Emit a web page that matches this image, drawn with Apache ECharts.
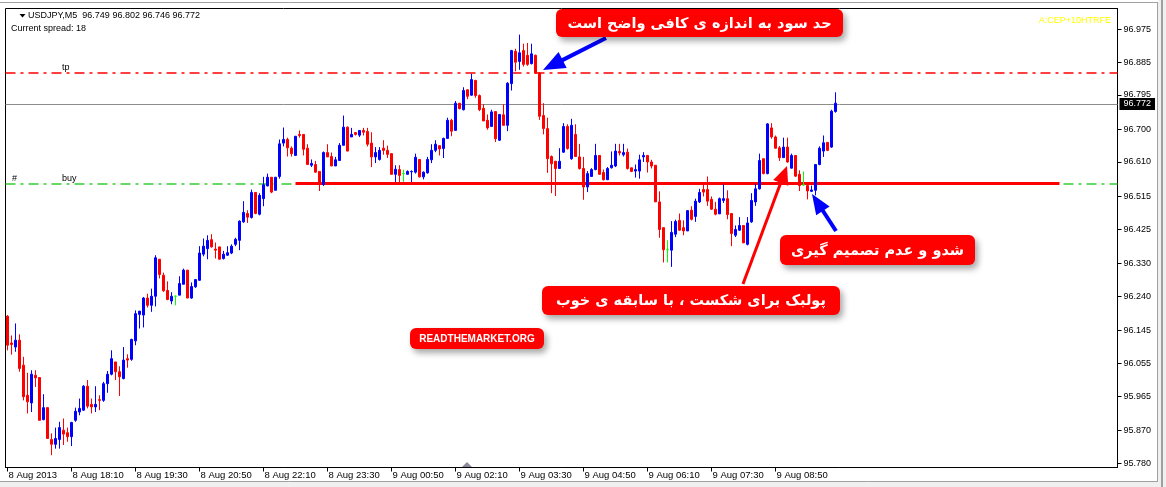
<!DOCTYPE html>
<html><head><meta charset="utf-8">
<script src="https://cdn.jsdelivr.net/npm/echarts@6/dist/echarts.min.js"></script>
<style>html,body{margin:0;padding:0;background:#fff}#c{width:1166px;height:487px}</style>
</head><body><div id="c"></div>
<script>
// ---------- data ----------
const symbolTitle = 'USDJPY,M5  96.749 96.802 96.746 96.772';
const spreadText = 'Current spread: 18';
const cornerText = 'A:CEP+10HTRFE';
const firstLabel = '8 Aug 2013';
const startTimeUTC = [2013, 7, 8, 16, 50];   // first bar: 8 Aug 2013 16:50
const barMinutes = 5;
const slotCount = 278;                        // bars + empty right shift
const labelEvery = 16;
const priceTicks = [95.780, 95.870, 95.965, 96.055, 96.145, 96.240, 96.330, 96.425, 96.515, 96.610, 96.700, 96.795, 96.885, 96.975];
const priceMin = 95.768, priceMax = 97.033;
const tpPrice = 96.855;
const buyPrice = 96.549;
const lastPrice = 96.772;
const trendFromBar = 72, trendToBar = 263, trendPrice = 96.551;
// [open, close, low, high]
const candles = [
[96.185,96.105,96.091,96.188],[96.111,96.107,96.079,96.132],[96.100,96.119,96.087,96.165],[96.119,96.041,96.032,96.135],
[96.050,95.963,95.953,96.073],[95.967,95.949,95.917,96.029],[95.946,96.025,95.921,96.036],[96.022,96.015,95.990,96.036],
[96.016,95.898,95.898,96.016],[95.900,95.933,95.898,95.970],[95.933,95.848,95.848,95.933],[95.845,95.832,95.802,95.862],
[95.832,95.848,95.820,95.878],[95.845,95.878,95.820,95.894],[95.871,95.860,95.830,95.903],[95.864,95.853,95.839,95.878],
[95.853,95.892,95.827,95.894],[95.898,95.923,95.894,95.933],[95.921,95.931,95.912,95.958],[95.926,95.992,95.924,95.995],
[95.992,95.937,95.931,96.009],[95.942,95.935,95.917,95.958],[95.935,95.942,95.921,95.992],[95.955,95.953,95.926,95.967],
[95.953,95.999,95.949,96.004],[95.999,96.025,95.974,96.034],[96.025,96.068,96.022,96.091],[96.059,96.032,96.009,96.059],
[96.032,96.018,95.965,96.047],[96.013,96.064,96.011,96.100],[96.068,96.064,96.043,96.080],[96.066,96.121,96.062,96.123],
[96.117,96.192,96.105,96.201],[96.190,96.199,96.151,96.199],[96.188,96.235,96.154,96.238],[96.235,96.215,96.209,96.247],
[96.215,96.240,96.197,96.261],[96.240,96.346,96.212,96.353],[96.342,96.300,96.289,96.342],[96.298,96.255,96.252,96.305],
[96.256,96.231,96.229,96.281],[96.227,96.240,96.218,96.251],[96.240,96.240,96.215,96.242],[96.243,96.275,96.243,96.295],
[96.273,96.312,96.273,96.316],[96.312,96.235,96.235,96.312],[96.235,96.267,96.233,96.278],[96.266,96.286,96.263,96.286],
[96.284,96.359,96.282,96.378],[96.356,96.378,96.350,96.399],[96.371,96.394,96.342,96.408],[96.396,96.376,96.374,96.411],
[96.370,96.367,96.344,96.388],[96.376,96.342,96.342,96.376],[96.344,96.356,96.341,96.365],[96.353,96.360,96.351,96.378],
[96.359,96.378,96.356,96.383],[96.383,96.397,96.378,96.401],[96.394,96.447,96.367,96.449],[96.445,96.471,96.442,96.502],
[96.468,96.458,96.442,96.477],[96.457,96.526,96.454,96.534],[96.526,96.468,96.466,96.526],[96.466,96.518,96.463,96.524],
[96.509,96.547,96.488,96.569],[96.544,96.568,96.543,96.578],[96.568,96.527,96.524,96.568],[96.532,96.568,96.532,96.568],
[96.570,96.660,96.564,96.672],[96.662,96.672,96.653,96.705],[96.672,96.649,96.625,96.677],[96.648,96.633,96.625,96.653],
[96.628,96.681,96.628,96.681],[96.686,96.683,96.677,96.697],[96.686,96.645,96.628,96.686],[96.648,96.603,96.603,96.659],
[96.601,96.606,96.596,96.617],[96.603,96.582,96.580,96.613],[96.584,96.550,96.530,96.584],[96.548,96.636,96.544,96.639],
[96.636,96.624,96.624,96.659],[96.625,96.599,96.599,96.636],[96.599,96.616,96.599,96.624],[96.614,96.656,96.614,96.662],
[96.656,96.706,96.656,96.738],[96.706,96.640,96.640,96.708],[96.679,96.686,96.679,96.704],[96.691,96.686,96.683,96.691],
[96.684,96.697,96.679,96.697],[96.697,96.692,96.683,96.704],[96.694,96.659,96.653,96.704],[96.662,96.624,96.596,96.692],
[96.624,96.636,96.607,96.651],[96.617,96.642,96.614,96.651],[96.648,96.642,96.630,96.670],[96.642,96.631,96.621,96.655],
[96.633,96.576,96.576,96.633],[96.576,96.590,96.555,96.601],[96.589,96.573,96.555,96.601],[96.578,96.578,96.555,96.589],
[96.576,96.584,96.575,96.587],[96.583,96.584,96.555,96.587],[96.582,96.623,96.578,96.633],[96.617,96.569,96.567,96.617],
[96.569,96.582,96.562,96.584],[96.580,96.617,96.578,96.624],[96.616,96.642,96.607,96.659],[96.642,96.659,96.637,96.670],
[96.655,96.646,96.628,96.655],[96.647,96.675,96.621,96.677],[96.675,96.725,96.675,96.732],[96.725,96.695,96.681,96.729],
[96.697,96.772,96.697,96.778],[96.772,96.757,96.755,96.772],[96.754,96.807,96.752,96.816],[96.809,96.791,96.783,96.809],
[96.794,96.837,96.793,96.853],[96.835,96.793,96.787,96.835],[96.793,96.754,96.750,96.796],[96.758,96.723,96.723,96.769],
[96.725,96.704,96.699,96.741],[96.708,96.748,96.708,96.754],[96.749,96.674,96.665,96.749],[96.670,96.741,96.668,96.741],
[96.740,96.711,96.711,96.769],[96.711,96.827,96.695,96.830],[96.826,96.917,96.807,96.919],[96.915,96.885,96.860,96.922],
[96.887,96.911,96.864,96.961],[96.917,96.879,96.873,96.936],[96.904,96.879,96.875,96.938],[96.881,96.908,96.879,96.936],
[96.904,96.855,96.853,96.906],[96.855,96.736,96.726,96.858],[96.738,96.702,96.686,96.772],[96.702,96.619,96.580,96.732],
[96.625,96.605,96.524,96.628],[96.612,96.592,96.516,96.613],[96.592,96.612,96.592,96.648],[96.637,96.708,96.635,96.717],
[96.708,96.647,96.644,96.714],[96.619,96.711,96.616,96.729],[96.686,96.625,96.624,96.714],[96.624,96.592,96.589,96.660],
[96.592,96.541,96.506,96.624],[96.541,96.578,96.527,96.585],[96.570,96.589,96.569,96.593],[96.589,96.628,96.587,96.660],
[96.628,96.576,96.576,96.628],[96.581,96.561,96.559,96.589],[96.561,96.592,96.561,96.596],[96.594,96.601,96.592,96.639],
[96.599,96.640,96.596,96.660],[96.639,96.635,96.628,96.660],[96.630,96.636,96.625,96.660],[96.637,96.592,96.589,96.647],
[96.594,96.584,96.582,96.594],[96.585,96.589,96.567,96.603],[96.585,96.616,96.564,96.630],[96.624,96.628,96.610,96.637],
[96.628,96.610,96.581,96.628],[96.610,96.599,96.592,96.616],[96.601,96.500,96.500,96.601],[96.500,96.424,96.401,96.529],
[96.429,96.368,96.333,96.429],[96.368,96.368,96.333,96.394],[96.367,96.416,96.321,96.447],[96.411,96.446,96.403,96.451],
[96.449,96.422,96.420,96.468],[96.429,96.420,96.408,96.449],[96.420,96.476,96.420,96.476],[96.477,96.452,96.449,96.488],
[96.460,96.502,96.445,96.509],[96.500,96.526,96.497,96.536],[96.534,96.527,96.515,96.552],[96.534,96.502,96.489,96.570],
[96.507,96.480,96.478,96.515],[96.480,96.466,96.463,96.500],[96.467,96.509,96.467,96.512],[96.504,96.509,96.497,96.548],
[96.509,96.465,96.452,96.532],[96.468,96.413,96.378,96.468],[96.408,96.424,96.403,96.435],[96.422,96.435,96.420,96.458],
[96.435,96.387,96.387,96.435],[96.383,96.442,96.380,96.458],[96.445,96.504,96.442,96.524],[96.500,96.536,96.489,96.550],
[96.536,96.614,96.534,96.633],[96.619,96.578,96.576,96.619],[96.578,96.715,96.576,96.717],[96.704,96.679,96.674,96.717],
[96.679,96.648,96.647,96.683],[96.649,96.622,96.613,96.654],[96.622,96.651,96.622,96.677],[96.651,96.610,96.608,96.677],
[96.593,96.628,96.592,96.633],[96.628,96.571,96.569,96.628],[96.576,96.545,96.530,96.587],[96.547,96.547,96.544,96.584],
[96.545,96.530,96.507,96.545],[96.529,96.533,96.527,96.545],[96.532,96.603,96.518,96.603],[96.603,96.648,96.601,96.653],
[96.640,96.663,96.624,96.683],[96.664,96.642,96.640,96.665],[96.651,96.750,96.649,96.754],[96.749,96.772,96.746,96.802]
];
const notes = {
  tp: 'حد سود به اندازه ی کافی واضح است',
  shadow: 'شدو و عدم تصمیم گیری',
  pullback: 'پولبک برای شکست ، با سابقه ی خوب',
  site: 'READTHEMARKET.ORG'
};

// ---------- build ----------
const MONTHS = ['Jan','Feb','Mar','Apr','May','Jun','Jul','Aug','Sep','Oct','Nov','Dec'];
const pad = n => (n < 10 ? '0' : '') + n;
const t0 = Date.UTC.apply(null, startTimeUTC);
const categories = [];
for (let i = 0; i < slotCount; i++) {
  const d = new Date(t0 + i * barMinutes * 60000);
  categories.push(d.getUTCDate() + ' ' + MONTHS[d.getUTCMonth()] + ' ' + pad(d.getUTCHours()) + ':' + pad(d.getUTCMinutes()));
}
const showIdx = i => i % labelEvery === 0 && i < candles.length;
const FONT = '"Liberation Sans", Arial, sans-serif';
const FA = '"DejaVu Sans", sans-serif';
const GL = 5.5, GT = 8.5, GW = 1112, GH = 459;

const chart = echarts.init(document.getElementById('c'));
chart.setOption({
  animation: false,
  backgroundColor: '#ffffff',
  grid: { left: GL, top: GT, width: GW, height: GH, show: true, borderColor: '#000', borderWidth: 1, backgroundColor: '#fff' },
  xAxis: {
    type: 'category', data: categories, boundaryGap: true,
    axisLine: { show: true, lineStyle: { color: '#000', width: 1 } },
    axisTick: { show: true, interval: showIdx, length: 4, alignWithLabel: true, lineStyle: { color: '#000' } },
    axisLabel: { interval: showIdx, align: 'left', margin: 3, padding: [0, 0, 0, 1], fontSize: 9.5, fontFamily: FONT, color: '#000',
      formatter: (v, i) => (i === 0 ? firstLabel : v) },
    splitLine: { show: false }
  },
  yAxis: {
    type: 'value', position: 'right', min: priceMin, max: priceMax,
    axisLine: { show: true, lineStyle: { color: '#000' } },
    axisTick: { show: true, length: 4, customValues: priceTicks, lineStyle: { color: '#000' } },
    axisLabel: { customValues: priceTicks, formatter: v => v.toFixed(3), margin: 6, fontSize: 9, fontFamily: FONT, color: '#000' },
    splitLine: { show: false }
  },
  series: [
    {
      type: 'line', data: [], silent: true, z: 3,
      markLine: {
        silent: true, symbol: ['none', 'none'], animation: false,
        data: [
          { yAxis: lastPrice, lineStyle: { color: '#8c8c8c', width: 1, type: 'solid' },
            label: { show: true, position: 'end', distance: 2, formatter: lastPrice.toFixed(3), backgroundColor: '#000', color: '#fff',
                     padding: [2, 4, 1, 4], fontSize: 9, fontFamily: FONT } },
          [ { coord: [trendFromBar, trendPrice], lineStyle: { color: '#ff0000', width: 3, type: 'solid' }, label: { show: false } },
            { coord: [trendToBar, trendPrice] } ]
        ]
      }
    },
    {
      type: 'candlestick', data: candles, barWidth: 2, z: 5,
      itemStyle: { color: '#0000ff', color0: '#ff0000', borderColor: '#0000ff', borderColor0: '#ff0000', borderColorDoji: '#00ff00', borderWidth: 1 }
    }
  ]
});

const py = p => chart.convertToPixel({ yAxisIndex: 0 }, p);
function arrow(x1, y1, x2, y2, color, w, hl, hw) {
  const dx = x2 - x1, dy = y2 - y1, L = Math.hypot(dx, dy), ux = dx / L, uy = dy / L;
  const bx = x2 - ux * hl, by = y2 - uy * hl;
  return [
    { type: 'line', z: 50, shape: { x1: x1, y1: y1, x2: bx + ux * 3, y2: by + uy * 3 }, style: { stroke: color, lineWidth: w } },
    { type: 'polygon', z: 50, shape: { points: [[x2, y2], [bx - uy * hw, by + ux * hw], [bx + uy * hw, by - ux * hw]] }, style: { fill: color } }
  ];
}
function box(x, y, w, h, text, font) {
  return [
    { type: 'rect', z: 60, shape: { x: x, y: y, width: w, height: h, r: 6 },
      style: { fill: '#ff0000', shadowBlur: 6, shadowOffsetX: 3, shadowOffsetY: 4, shadowColor: 'rgba(0,0,0,0.35)' } },
    { type: 'text', z: 61, x: x + w / 2, y: y + h / 2 + 1,
      style: { text: text, fill: '#fff', font: font, textAlign: 'center', textVerticalAlign: 'middle' } }
  ];
}
function dashLevel(price, color) {
  const y = Math.round(py(price));
  return { type: 'line', z: 2, shape: { x1: GL, y1: y, x2: GL + GW, y2: y }, style: { stroke: color, lineWidth: 1.5, lineDash: [10, 5, 3, 5] } };
}
const tpY = py(tpPrice), buyY = py(buyPrice);
const g = [
  // window frame
  { type: 'rect', z: 0, shape: { x: 0, y: 482, width: 1166, height: 5 }, style: { fill: '#f0f0f0' } },
  { type: 'rect', z: 0, shape: { x: 1158, y: 0, width: 8, height: 487 }, style: { fill: '#f0f0f0' } },
  { type: 'line', z: 1, shape: { x1: 0, y1: 2.5, x2: 1158, y2: 2.5 }, style: { stroke: '#a0a0a0', lineWidth: 1 } },
  { type: 'line', z: 1, shape: { x1: 1157.5, y1: 2, x2: 1157.5, y2: 482 }, style: { stroke: '#a0a0a0', lineWidth: 1 } },
  { type: 'line', z: 1, shape: { x1: 1162, y1: 0, x2: 1162, y2: 487 }, style: { stroke: '#a0a0a0', lineWidth: 2 } },
  { type: 'line', z: 1, shape: { x1: 0, y1: 481.5, x2: 1158, y2: 481.5 }, style: { stroke: '#a0a0a0', lineWidth: 1 } },
  // level lines
  dashLevel(tpPrice, '#ff0000'),
  dashLevel(buyPrice, '#33cc33'),
  // header
  { type: 'polygon', z: 40, shape: { points: [[19.5, 14], [25.5, 14], [22.5, 17.5]] }, style: { fill: '#000' } },
  { type: 'text', z: 40, x: 28, y: 16, style: { text: symbolTitle, font: '9px ' + FONT, fill: '#000', textVerticalAlign: 'middle' } },
  { type: 'text', z: 40, x: 11, y: 29, style: { text: spreadText, font: '9px ' + FONT, fill: '#000', textVerticalAlign: 'middle' } },
  { type: 'text', z: 40, x: 1111, y: 21, style: { text: cornerText, font: '9px ' + FONT, fill: '#ffff00', textAlign: 'right', textVerticalAlign: 'middle' } },
  // line labels
  { type: 'text', z: 40, x: 62, y: tpY - 1, style: { text: 'tp', font: '9px ' + FONT, fill: '#000', textVerticalAlign: 'bottom' } },
  { type: 'text', z: 40, x: 62, y: buyY - 1, style: { text: 'buy', font: '9px ' + FONT, fill: '#000', textVerticalAlign: 'bottom' } },
  { type: 'text', z: 40, x: 12, y: buyY - 1, style: { text: '#', font: '9px ' + FONT, fill: '#000', textVerticalAlign: 'bottom' } },
  // shift marker
  { type: 'polygon', z: 40, shape: { points: [[462, 467], [467, 462], [472, 467]] }, style: { fill: '#8a8a9a' } }
];
g.push.apply(g, arrow(606, 38, 543, 70, '#0000ff', 4, 22, 9));
g.push.apply(g, arrow(836, 231, 812, 194, '#0000ff', 4, 20, 8));
g.push.apply(g, arrow(743, 284, 787, 166, '#ff0000', 3, 18, 8));
g.push.apply(g, box(556, 9, 287, 28, notes.tp, 'bold 14.5px ' + FA));
g.push.apply(g, box(780, 235, 195, 30, notes.shadow, 'bold 14.5px ' + FA));
g.push.apply(g, box(542, 286, 298, 29, notes.pullback, 'bold 14.5px ' + FA));
g.push.apply(g, box(410, 328, 134, 21, notes.site, 'bold 10px ' + FONT));
chart.setOption({ graphic: g });
</script></body></html>
